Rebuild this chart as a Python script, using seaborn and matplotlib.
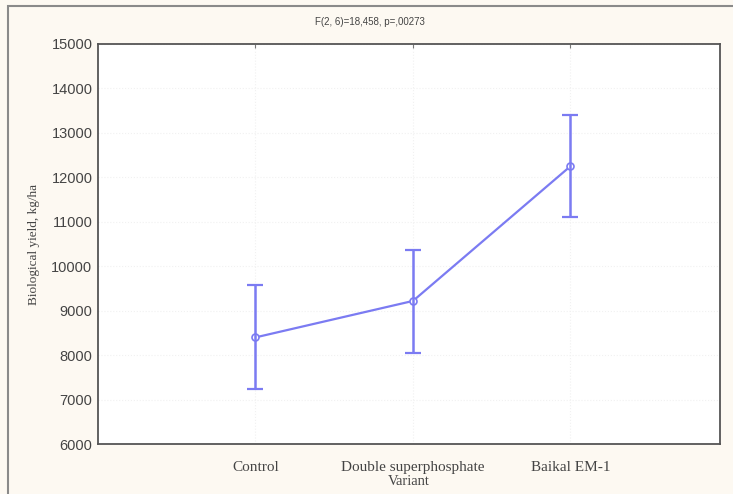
import pandas as pd
import matplotlib.pyplot as plt
import matplotlib.patches as patches
import seaborn as sns

# Data
variants = ["Control", "Double superphosphate", "Baikal EM-1"]
means = [8400, 9220, 12250]
lower = [7240, 8050, 11110]
upper = [9570, 10370, 13400]

df = pd.DataFrame({"Variant": variants, "Yield": means})

sns.set_style("white")
plt.rcParams["font.family"] = ["Liberation Sans", "DejaVu Sans"]

fig = plt.figure(figsize=(7.33, 4.94), dpi=100, facecolor="#fdf9f2")
ax = fig.add_axes([0.1337, 0.101, 0.8486, 0.81])
ax.set_facecolor("white")

# outer frame
fig.patches.append(patches.Rectangle((0.011, -0.02), 1.1, 1.008, transform=fig.transFigure,
                                     fill=False, edgecolor="#8a8a8a", linewidth=1.5))

line_color = "#7b7bf2"
sns.pointplot(data=df, x="Variant", y="Yield", errorbar=None, color=line_color,
              markers="o", linewidth=1.6, markersize=5, ax=ax,
              markerfacecolor="white", markeredgecolor=line_color, markeredgewidth=1.2)

err_lo = [m - l for m, l in zip(means, lower)]
err_hi = [u - m for m, u in zip(means, upper)]
ax.errorbar(range(len(variants)), means, yerr=[err_lo, err_hi], fmt="none",
            ecolor=line_color, elinewidth=1.8, capsize=6, capthick=1.6, zorder=2)

ax.set_ylim(6000, 15000)
ax.set_yticks(range(6000, 15001, 1000))
ax.set_xlim(-1, 2.95)
ax.grid(True, color="#f1f1f1", linewidth=0.8, linestyle=":")

for s in ax.spines.values():
    s.set_color("#555555")
    s.set_linewidth(1.3)

ax.tick_params(axis="both", direction="in", length=3, color="#777777", top=True)
ax.tick_params(axis="y", labelsize=10.5, labelcolor="#444444", pad=4)
ax.tick_params(axis="x", labelsize=11, labelcolor="#444444", pad=12)
for t in ax.get_xticklabels():
    t.set_family("Liberation Serif")

ax.set_xlabel("Variant", family="Liberation Serif", fontsize=10.5, color="#444444", labelpad=1)
ax.set_ylabel("Biological yield, kg/ha", family="Liberation Serif", fontsize=9.5,
              color="#444444", labelpad=8)

fig.text(0.505, 0.955, "F(2, 6)=18,458, p=,00273", ha="center", va="center",
         fontsize=7, color="#444444")

plt.savefig("out.png", dpi=100, facecolor=fig.get_facecolor())
